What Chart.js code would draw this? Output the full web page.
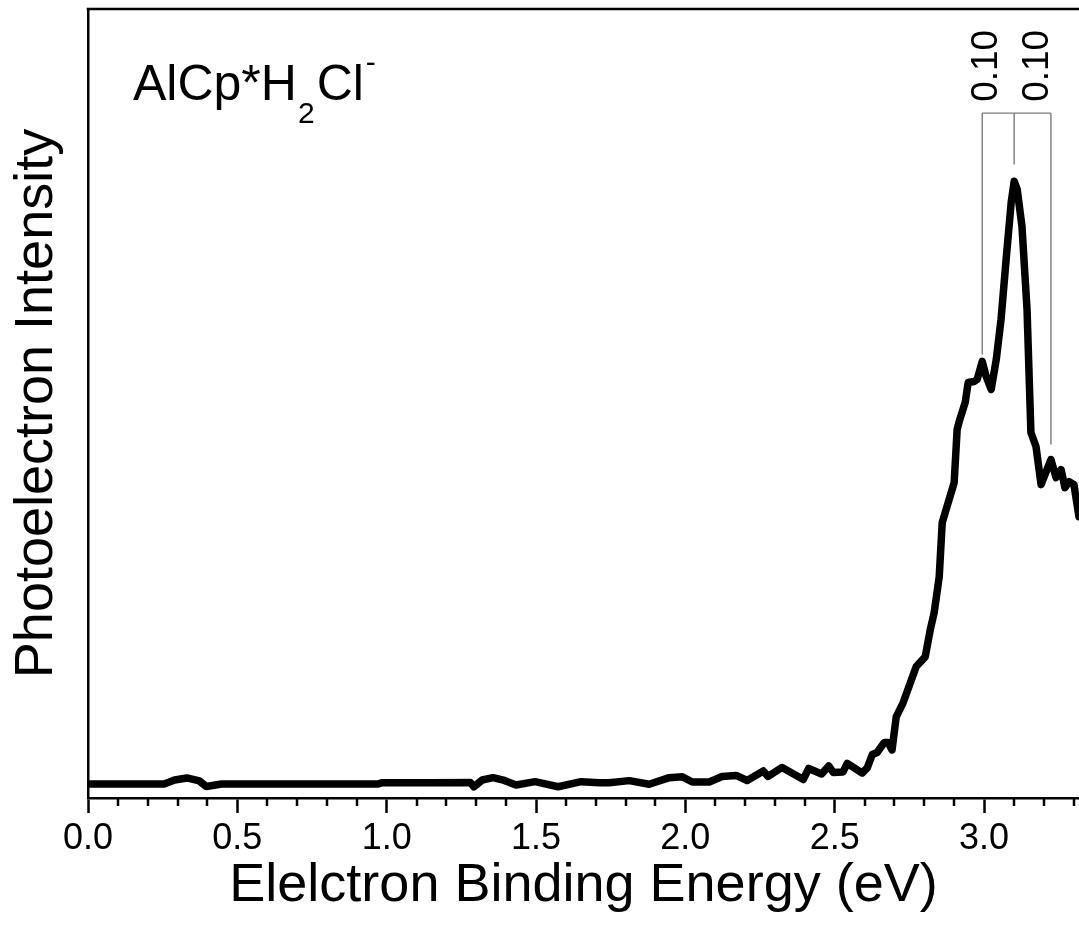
<!DOCTYPE html>
<html>
<head>
<meta charset="utf-8">
<script src="https://cdn.jsdelivr.net/npm/chart.js@4.4.1/dist/chart.umd.min.js"></script>
<style>
  html, body { margin: 0; padding: 0; background: #fff; }
  canvas { display: block; }
</style>
</head>
<body>
<canvas id="pes" width="1079" height="951"></canvas>
<script>
// Photoelectron spectrum of AlCp*H2Cl- : binding energy (eV) vs. intensity (arb. units)
const bindingEnergy = [
  0.000, 0.105, 0.255, 0.290, 0.331, 0.373, 0.396, 0.447, 0.708, 0.972,
  0.986, 1.143, 1.280, 1.292, 1.320, 1.356, 1.394, 1.433, 1.497, 1.574,
  1.651, 1.712, 1.745, 1.812, 1.879, 1.946, 1.990, 2.023, 2.080, 2.123,
  2.170, 2.207, 2.261, 2.277, 2.324, 2.395, 2.413, 2.456, 2.480, 2.495,
  2.528, 2.542, 2.592, 2.609, 2.626, 2.642, 2.666, 2.679, 2.692, 2.706,
  2.729, 2.763, 2.773, 2.803, 2.820, 2.833, 2.850, 2.860, 2.883, 2.900,
  2.910, 2.917, 2.937, 2.947, 2.967, 2.977, 2.994, 3.007, 3.024, 3.041,
  3.057, 3.074, 3.091, 3.101, 3.111, 3.127, 3.144, 3.157, 3.174, 3.191,
  3.208, 3.224, 3.241, 3.258, 3.271, 3.285, 3.301, 3.318
];
const intensity = [
  1.78, 1.78, 1.78, 2.28, 2.54, 2.16, 1.46, 1.78, 1.78, 1.78,
  1.94, 1.94, 1.97, 1.43, 2.28, 2.58, 2.22, 1.65, 2.07, 1.43,
  2.07, 1.94, 1.94, 2.20, 1.74, 2.58, 2.70, 2.03, 2.03, 2.73,
  2.86, 2.22, 3.43, 2.73, 3.87, 2.35, 3.74, 3.05, 4.06, 3.24,
  3.30, 4.38, 3.17, 3.81, 5.52, 5.77, 7.04, 7.04, 6.09, 10.28,
  12.06, 15.61, 16.66, 17.89, 21.32, 23.48, 28.05, 34.90, 37.82, 39.97,
  46.70, 47.72, 50.13, 52.66, 52.79, 53.05, 55.33, 53.43, 51.78, 55.58,
  60.66, 68.27, 75.51, 78.17, 77.16, 72.46, 61.93, 46.32, 44.54, 39.72,
  41.37, 42.89, 40.61, 41.62, 39.34, 40.10, 39.72, 35.66
];

// Axis range and tick values
const energyMin = 0.0;
const energyMax = 3.318;
const majorTickStep = 0.5;
const minorTickStep = 0.1;

// Vibrational progression marks (eV) with the intensity where each mark stops
const progressionEnergy = [2.994, 3.101, 3.224];
const progressionMarkEnd = [56.2, 80.3, 44.8];
const progressionBracket = 86.8;
const spacingLabels = ['0.10', '0.10'];
const spacingLabelEnergy = [3.009, 3.179];
const spacingLabelLevel = 92.8;

const FONT = "'Liberation Sans', Arial, Helvetica, sans-serif";

const points = bindingEnergy.map((e, i) => ({ x: e, y: intensity[i] }));

const decorations = {
  id: 'decorations',
  afterDraw(chart) {
    const { ctx, chartArea, scales: { x, y } } = chart;
    ctx.save();

    // top frame line
    ctx.strokeStyle = '#000';
    ctx.lineWidth = 2.5;
    ctx.beginPath();
    ctx.moveTo(chartArea.left - 1.25, chartArea.top);
    ctx.lineTo(chartArea.right, chartArea.top);
    ctx.stroke();

    // minor ticks on the energy axis
    ctx.lineWidth = 2.5;
    const nMinor = Math.floor((energyMax - energyMin) / minorTickStep + 1e-6);
    for (let i = 1; i <= nMinor; i++) {
      if (i % Math.round(majorTickStep / minorTickStep) === 0) continue;
      const px = Math.round(x.getPixelForValue(energyMin + i * minorTickStep));
      ctx.beginPath();
      ctx.moveTo(px, chartArea.bottom);
      ctx.lineTo(px, chartArea.bottom + 8);
      ctx.stroke();
    }

    // progression bracket
    ctx.strokeStyle = '#7a7a7a';
    ctx.lineWidth = 1.4;
    const yb = y.getPixelForValue(progressionBracket);
    progressionEnergy.forEach((e, i) => {
      const px = x.getPixelForValue(e);
      ctx.beginPath();
      ctx.moveTo(px, yb);
      ctx.lineTo(px, y.getPixelForValue(progressionMarkEnd[i]));
      ctx.stroke();
    });
    ctx.beginPath();
    ctx.moveTo(x.getPixelForValue(progressionEnergy[0]), yb);
    ctx.lineTo(x.getPixelForValue(progressionEnergy[progressionEnergy.length - 1]), yb);
    ctx.stroke();

    // spacing labels, rotated
    ctx.fillStyle = '#000';
    ctx.font = '37px ' + FONT;
    ctx.textAlign = 'center';
    ctx.textBaseline = 'middle';
    spacingLabels.forEach((t, i) => {
      ctx.save();
      ctx.translate(x.getPixelForValue(spacingLabelEnergy[i]), y.getPixelForValue(spacingLabelLevel));
      ctx.rotate(-Math.PI / 2);
      ctx.fillText(t, 0, 0);
      ctx.restore();
    });

    // species label AlCp*H2Cl-
    ctx.textAlign = 'left';
    ctx.textBaseline = 'alphabetic';
    let tx = chartArea.left + 45;
    const base = chartArea.top + 91;
    ctx.font = '50px ' + FONT;
    ctx.fillText('AlCp*H', tx, base);
    tx += ctx.measureText('AlCp*H').width;
    ctx.font = '30px ' + FONT;
    ctx.fillText('2', tx + 1, base + 23);
    tx += ctx.measureText('2').width + 3;
    ctx.font = '50px ' + FONT;
    ctx.fillText('Cl', tx, base);
    tx += ctx.measureText('Cl').width + 2;
    ctx.font = '30px ' + FONT;
    ctx.fillText('-', tx, base - 28);

    ctx.restore();
  }
};

new Chart(document.getElementById('pes'), {
  type: 'line',
  data: {
    datasets: [{
      data: points,
      borderColor: '#000',
      borderWidth: 7.5,
      borderJoinStyle: 'round',
      borderCapStyle: 'round',
      pointRadius: 0,
      tension: 0,
      fill: false
    }]
  },
  options: {
    responsive: false,
    animation: false,
    events: [],
    layout: { padding: { top: 9, right: 0, left: 0, bottom: 0 } },
    plugins: { legend: { display: false }, tooltip: { enabled: false } },
    scales: {
      x: {
        type: 'linear',
        min: energyMin,
        max: energyMax,
        afterFit: (s) => { s.height = 153; },
        ticks: {
          stepSize: majorTickStep,
          includeBounds: false,
          autoSkip: false,
          maxRotation: 0,
          padding: 4,
          color: '#000',
          font: { family: FONT, size: 36 },
          callback: (v) => Number(v).toFixed(1)
        },
        grid: {
          display: true,
          drawOnChartArea: false,
          drawTicks: true,
          tickLength: 15,
          tickWidth: 2.5,
          tickColor: '#000'
        },
        border: { display: true, color: '#000', width: 2.5 },
        title: {
          display: true,
          text: 'Elelctron Binding Energy (eV)',
          color: '#000',
          font: { family: FONT, size: 54 },
          padding: { top: 0, bottom: 32 }
        }
      },
      y: {
        type: 'linear',
        min: 0,
        max: 100,
        afterFit: (s) => { s.width = 88; },
        ticks: { display: false },
        grid: { display: false },
        border: { display: true, color: '#000', width: 2.5 },
        title: {
          display: true,
          text: 'Photoelectron Intensity',
          color: '#000',
          font: { family: FONT, size: 54 },
          padding: { top: 5, bottom: 0 }
        }
      }
    }
  },
  plugins: [decorations]
});
</script>
</body>
</html>
